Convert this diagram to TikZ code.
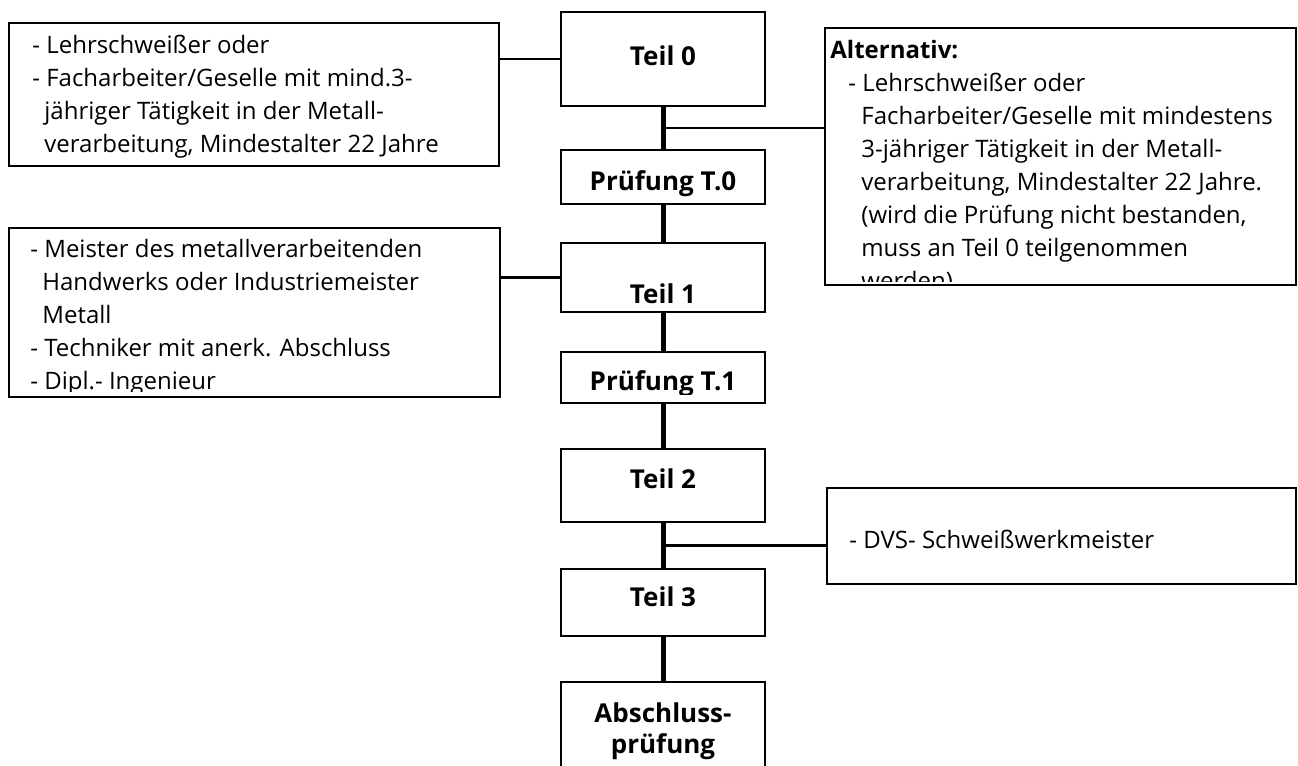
\documentclass[tikz,border=0pt]{standalone}
\usepackage{fontspec}
\setmainfont{Open Sans}
\usetikzlibrary{calc, positioning}

\newcommand\fliess{\fontsize{12}{16.5}\selectfont}
\newcommand\titel{\fontsize{13}{15.5}\selectfont\bfseries}
\newcommand\einzug{\hspace*{6pt}}

\begin{document}
\begin{tikzpicture}[x=0.5pt, y=-0.5pt,
        stufe/.style={draw, line width=1pt, minimum width=102pt, inner sep=0pt},
        kasten/.style={draw, line width=1pt, inner sep=0pt},
        titeltext/.style={font=\titel, inner sep=0pt, anchor=base},
        fliesstext/.style={font=\fliess, inner sep=0pt, anchor=north west, align=left},
        strang/.style={line width=2.5pt},
        ast/.style={line width=1.3pt}]

    \useasboundingbox (0,0) rectangle (1298,766);

    % Stufen
    \node[stufe, minimum height=47pt] (t0) at (663,59) {};
    \node[stufe, minimum height=27pt] (p0) at (663,177) {};
    \node[stufe, minimum height=34.5pt] (t1) at (663,277.5) {};
    \node[stufe, minimum height=25.5pt] (p1) at (663,377.5) {};
    \node[stufe, minimum height=36.5pt] (t2) at (663,485.5) {};
    \node[stufe, minimum height=33.5pt] (t3) at (663,602.5) {};
    \node[stufe, minimum height=59pt] (ab) at (663,741) {};

    \node[titeltext] (t0txt) at (663,65.7) {Teil 0};
    \node[titeltext] (p0txt) at (663,190) {Prüfung T.0};
    \node[titeltext] (t1txt) at (663,303) {Teil 1};
    \begin{scope}
        \clip (p1.north west) rectangle ([yshift=5pt]p1.south east);
        \node[titeltext] (p1txt) at (663,390) {Prüfung T.1};
    \end{scope}
    \node[titeltext] (t2txt) at (663,488) {Teil 2};
    \node[titeltext] (t3txt) at (663,606.7) {Teil 3};
    \node[titeltext, anchor=north, align=center] (abtxt) at (663,700.3) {\strut Abschluss-\\prüfung};

    % Voraussetzungen
    \node[kasten, minimum width=245pt, minimum height=71.5pt] (lb1) at (254,94.5) {};
    \node[fliesstext] (lb1txt) at (32,30) {\strut- Lehrschweißer oder\\- Facharbeiter/Geselle mit mind.3-\\\einzug jähriger Tätigkeit in der Metall-\\\einzug verarbeitung, Mindestalter 22 Jahre};

    \node[kasten, minimum width=245.5pt, minimum height=84.5pt] (lb2) at (254.5,312.5) {};
    \begin{scope}
        \clip (lb2.north west) rectangle ([yshift=3.5pt]lb2.south east);
        \node[fliesstext] (lb2txt) at (30,234) {\strut- Meister des metallverarbeitenden\\\einzug Handwerks oder Industriemeister\\\einzug Metall\\- Techniker mit anerk. Abschluss\\- Dipl.- Ingenieur};
    \end{scope}

    \node[kasten, minimum width=235.5pt, minimum height=128.5pt] (alt) at (1060.5,156.5) {};
    \begin{scope}
        \clip (alt.north west) rectangle ([yshift=2.5pt]alt.south east);
        \node[fliesstext] (alttxt) at (830,35) {\strut\textbf{Alternativ:}\\\hspace*{9pt}- Lehrschweißer oder\\\hspace*{15.5pt}Facharbeiter/Geselle mit mindestens\\\hspace*{15.5pt}3-jähriger Tätigkeit in der Metall-\\\hspace*{15.5pt}verarbeitung, Mindestalter 22 Jahre.\\\hspace*{15.5pt}(wird die Prüfung nicht bestanden,\\\hspace*{15.5pt}muss an Teil 0 teilgenommen\\\hspace*{15.5pt}werden)};
    \end{scope}

    \node[kasten, minimum width=234.5pt, minimum height=48pt] (dvs) at (1061.5,536) {};
    \node[font=\fliess, inner sep=0pt, anchor=base west] (dvstxt) at (849,548) {- DVS- Schweißwerkmeister};

    % Linien
    \draw[strang] (t0) -- (p0) -- (t1) -- (p1) -- (t2) -- (t3) -- (ab);
    \coordinate (j0) at ($(t0.south)!0.5!(p0.north)$);
    \coordinate (j2) at ($(t2.south)!0.5!(t3.north)$);
    \draw[ast] (j0) -- (j0 -| alt.west);
    \draw[ast] (j2) -- (j2 -| dvs.west);
    \draw[ast] (t0.west) -- (t0.west -| lb1.east);
    \draw[ast] (t1.west) -- (t1.west -| lb2.east);
\end{tikzpicture}
\end{document}
